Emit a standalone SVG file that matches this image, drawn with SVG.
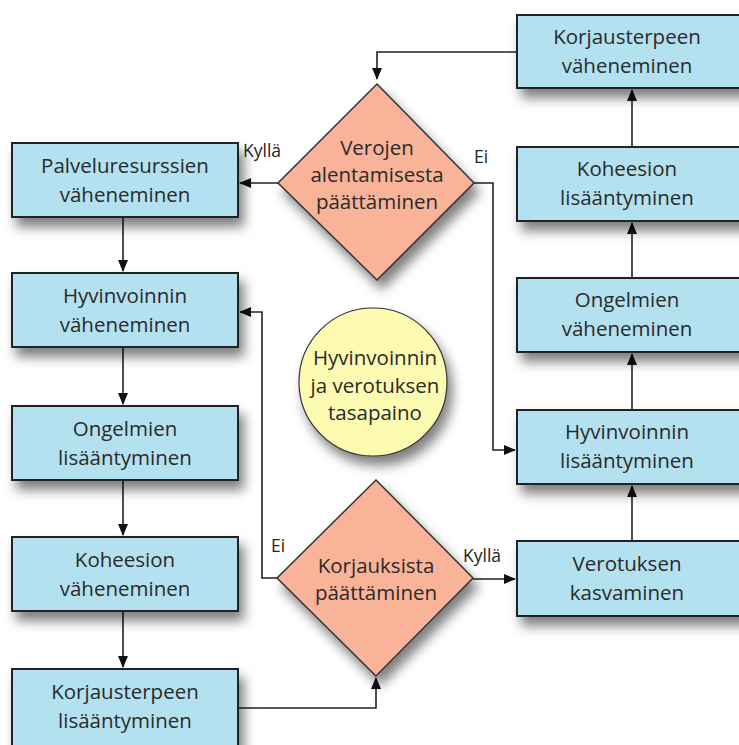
<svg xmlns="http://www.w3.org/2000/svg" width="739" height="745" viewBox="0 0 739 745">
<defs>
<filter id="sh" x="-20%" y="-20%" width="150%" height="160%">
<feDropShadow dx="5" dy="9" stdDeviation="6" flood-color="#000" flood-opacity="0.5"/>
</filter>
<marker id="ah" markerWidth="12" markerHeight="12" refX="11" refY="6" orient="auto" markerUnits="userSpaceOnUse">
<path d="M0,1 L12,6 L0,11 Z" fill="#111"/>
</marker>
<style>
.box{fill:#b3e1ef;stroke:#222;stroke-width:2;filter:url(#sh)}
.dia{fill:#f9b398;stroke:#333;stroke-width:1.5;filter:url(#sh)}
.cir{fill:#fdfab1;stroke:#333;stroke-width:1.2;filter:url(#sh)}
.t{font-family:"Open Sans","Liberation Sans",sans-serif;font-size:20.5px;fill:#2a2a2a;text-anchor:middle}
.lb{font-family:"Open Sans","Liberation Sans",sans-serif;font-size:17.5px;fill:#222}
.c{fill:none;stroke:#222;stroke-width:1.6;marker-end:url(#ah)}
</style>
</defs>
<rect width="739" height="745" fill="#fff"/>
<g id="connectors">
<path class="c" d="M517,52 H377 V79"/>
<path class="c" d="M278,183 H240"/>
<path class="c" d="M473,183 H493 V450 H515"/>
<path class="c" d="M123,217 V271"/>
<path class="c" d="M123,347 V404"/>
<path class="c" d="M123,480 V535"/>
<path class="c" d="M123,611 V667"/>
<path class="c" d="M277,578 H262 V312 H240"/>
<path class="c" d="M473,579 H515"/>
<path class="c" d="M238,708 H376 V678"/>
<path class="c" d="M632,540 V486"/>
<path class="c" d="M632,410 V354"/>
<path class="c" d="M632,278 V223"/>
<path class="c" d="M632,147 V90"/>
</g>
<g id="n_palvelu"><rect class="box" x="12" y="143" width="226" height="74"/><text class="t" x="125" y="173">Palveluresurssien</text><text class="t" x="125" y="202">väheneminen</text></g>
<g id="n_hyv_vah"><rect class="box" x="12" y="273" width="226" height="74"/><text class="t" x="125" y="303">Hyvinvoinnin</text><text class="t" x="125" y="332">väheneminen</text></g>
<g id="n_ong_lis"><rect class="box" x="12" y="406" width="226" height="74"/><text class="t" x="125" y="436">Ongelmien</text><text class="t" x="125" y="465">lisääntyminen</text></g>
<g id="n_koh_vah"><rect class="box" x="12" y="537" width="226" height="74"/><text class="t" x="125" y="567">Koheesion</text><text class="t" x="125" y="596">väheneminen</text></g>
<g id="n_korj_lis"><rect class="box" x="12" y="669" width="226" height="80"/><text class="t" x="125" y="699">Korjausterpeen</text><text class="t" x="125" y="728">lisääntyminen</text></g>
<g id="n_korj_vah"><rect class="box" x="517" y="15" width="240" height="73"/><text class="t" x="627" y="44">Korjausterpeen</text><text class="t" x="627" y="73">väheneminen</text></g>
<g id="n_koh_lis"><rect class="box" x="517" y="147" width="240" height="74"/><text class="t" x="627" y="176">Koheesion</text><text class="t" x="627" y="205">lisääntyminen</text></g>
<g id="n_ong_vah"><rect class="box" x="517" y="278" width="240" height="74"/><text class="t" x="627" y="307">Ongelmien</text><text class="t" x="627" y="336">väheneminen</text></g>
<g id="n_hyv_lis"><rect class="box" x="517" y="410" width="240" height="74"/><text class="t" x="627" y="439">Hyvinvoinnin</text><text class="t" x="627" y="468">lisääntyminen</text></g>
<g id="n_verotus"><rect class="box" x="517" y="541" width="240" height="75"/><text class="t" x="627" y="571">Verotuksen</text><text class="t" x="627" y="600">kasvaminen</text></g>
<g id="n_verojen"><path class="dia" d="M377,84 L474,183 L377,280 L278,183 Z"/><text class="t" x="377" y="155">Verojen</text><text class="t" x="377" y="182">alentamisesta</text><text class="t" x="377" y="209">päättäminen</text></g>
<g id="n_korjauksista"><path class="dia" d="M376,480 L473,578 L376,676 L277,578 Z"/><text class="t" x="376" y="573">Korjauksista</text><text class="t" x="376" y="600">päättäminen</text></g>
<g id="n_tasapaino"><circle class="cir" cx="373" cy="382" r="74"/><text class="t" x="375" y="365">Hyvinvoinnin</text><text class="t" x="375" y="393">ja verotuksen</text><text class="t" x="375" y="420">tasapaino</text></g>
<g id="labels">
<text class="lb" x="243" y="157">Kyllä</text>
<text class="lb" x="474" y="163">Ei</text>
<text class="lb" x="271" y="552">Ei</text>
<text class="lb" x="463" y="562">Kyllä</text>
</g>
</svg>
